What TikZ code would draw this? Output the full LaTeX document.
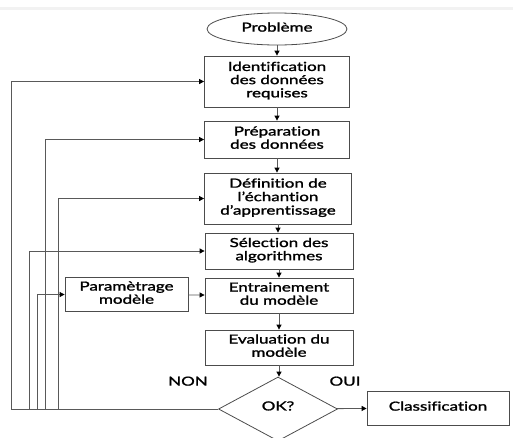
\documentclass[tikz,border=0pt]{standalone}
\usepackage{fontspec}
\setmainfont[FakeBold=1.3, Ligatures=NoCommon]{Lato}
\usepackage{tikz}
\usetikzlibrary{shapes.geometric, arrows.meta, positioning}
\newcommand{\wide}[1]{\scalebox{1.36}[1]{\begin{tabular}{@{}c@{}}#1\end{tabular}}}

\begin{document}
\begin{tikzpicture}[x=1pt, y=-1pt,
    box/.style={draw=black!70, line width=0.8pt, align=center, inner sep=0pt, font=\fontsize{12.5}{13.2}\selectfont},
    arr/.style={draw=black!65, line width=0.8pt, -{Triangle[length=5pt, width=5pt, color=black]}}]
    \useasboundingbox (0,0) rectangle (513,437);
    \fill[gray!10] (0,6.5) rectangle (513,9.5);
    \node[box, ellipse, minimum width=140, minimum height=32] (prob) at (277,29) {\wide{Problème}};
    \node[box, minimum width=145, minimum height=51] (ident) at (277,81.5) {\wide{Identification\\des données\\requises}};
    \node[box, minimum width=145, minimum height=37] (prep) at (277,139.5) {\wide{Préparation\\des données}};
    \node[box, minimum width=147, minimum height=51] (defin) at (278,198.5) {\wide{Définition de\\l'échantion\\d'apprentissage}};
    \node[box, minimum width=148, minimum height=36] (selec) at (279,251) {\wide{Sélection des\\algorithmes}};
    \node[box, minimum width=148, minimum height=35] (entr) at (279,295.5) {\wide{Entrainement\\du modèle}};
    \node[box, minimum width=123, minimum height=34] (param) at (126.5,294.5) {\wide{Paramètrage\\modèle}};
    \node[box, minimum width=148, minimum height=35] (eval) at (279,347.5) {\wide{Evaluation du\\modèle}};
    \node[box, diamond, aspect=1.9, minimum width=119, minimum height=64] (ok) at (278,409) {\raisebox{6pt}{\wide{OK?}}};
    \node[box, minimum width=142, minimum height=34] (classif) at (438,408) {\wide{Classification}};
    \node[font=\fontsize{12.5}{13.2}\selectfont] (non) at (188,383) {\wide{NON}};
    \node[font=\fontsize{12.5}{13.2}\selectfont] (oui) at (345,383) {\wide{OUI}};
    \foreach \a/\b in {prob/ident, ident/prep, prep/defin, defin/selec, selec/entr, entr/eval, eval/ok}
        \draw[arr] (\a.south) -- (\a.south |- \b.north);
    \draw[arr] (param) -- (entr);
    \draw[arr] (ok) -- (classif);
    \foreach \x/\t in {11/ident, 45/prep, 58/defin, 29/selec, 37/param} {
        \coordinate (back\t) at (\x,409);
        \draw[arr] (ok.west) -- (back\t) |- (\t.west);
    }
\end{tikzpicture}
\end{document}
